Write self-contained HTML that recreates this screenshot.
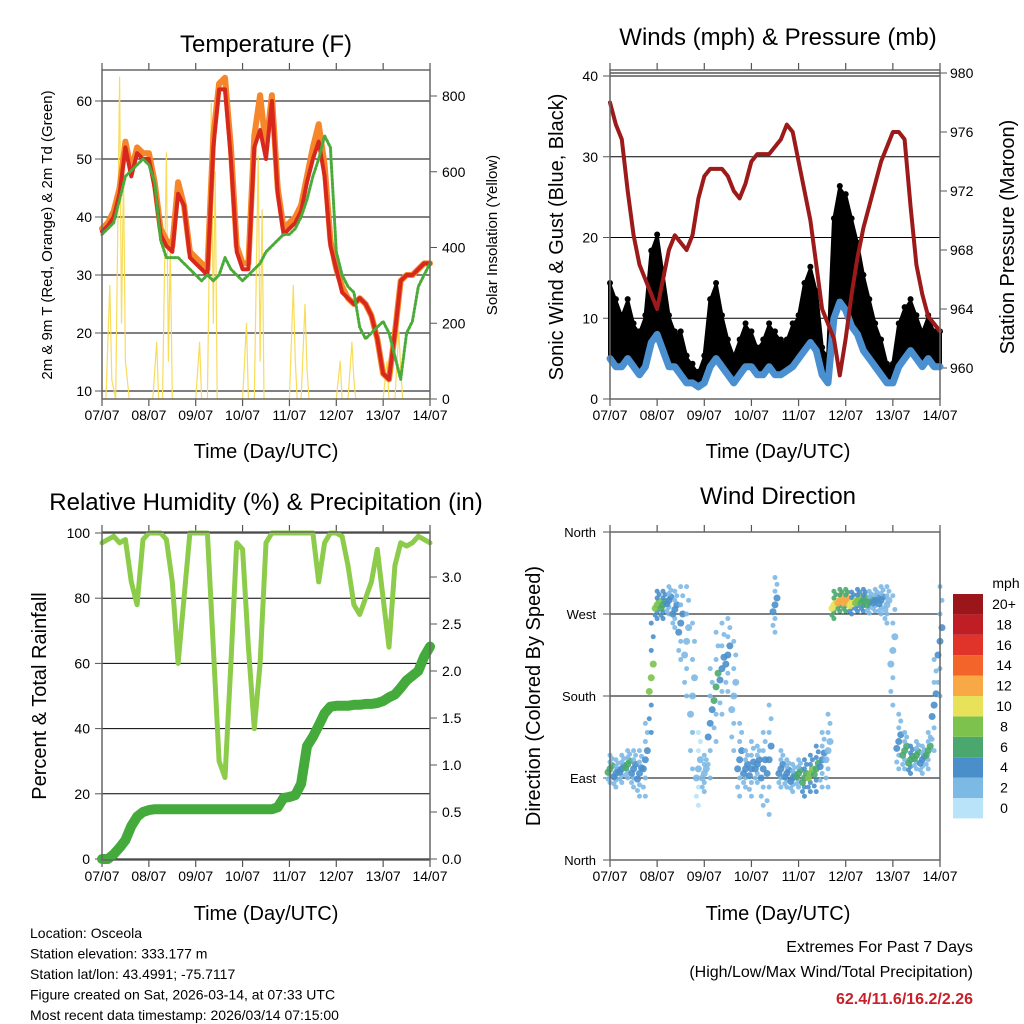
<!DOCTYPE html>
<html><head><meta charset="utf-8"><style>
body{margin:0;background:#fff;width:1024px;height:1024px;overflow:hidden;font-family:"Liberation Sans",sans-serif}
svg{position:absolute;left:0;top:0}
</style></head><body>
<svg id="s" width="1024" height="1024" xmlns="http://www.w3.org/2000/svg" font-family="Liberation Sans, sans-serif"></svg>
<script>
const hours=[0,3,6,9,12,15,18,21,24,27,30,33,36,39,42,45,48,51,54,57,60,63,66,69,72,75,78,81,84,87,90,93,96,99,102,105,108,111,114,117,120,123,126,129,132,135,138,141,144,147,150,153,156,159,162,165,168];
const dayLabels=["07/07","08/07","09/07","10/07","11/07","12/07","13/07","14/07"];
const temp2m=[37.5,38.5,40,44,52,47,51,50,50,45,37,35,34,44,42,33,32,31,30,52,62,62,50,34,31,31,52,55,50,60,44,37,38,39,41,46,50,53,47,35,31,27,26,25,26,25,23,19,13,12,20,29,30,30,31,32,32];
const temp9m=[38,39,41,45,53,48,52,51,51,46,38,36,35,46,42,34,33,32,31,54,63,64,52,35,32,32,54,61,52,61,45,38,39,40,42,47,52,56,49,36,31,28,26,25,26,25,23,19,13,12,20,29,30,30,31,32,32];
const dewpoint=[37,38,39,43,47,48,49,50,49,46,36,33,33,33,32,31,30,29,30,29,30,33,31,30,29,30,31,32,34,35,36,37,37,38,40,43,47,50,54,52,34,30,28,27,21,19,20,21,22,20,16,12,20,22,28,30,32];
const solarHours=[0,2,4,5,7,9,10,11,12,14,26,28,29,31,33,34,35,36,48,50,51,54,56,57,58,59,72,74,75,78,80,81,82,83,96,98,99,100,102,104,105,106,120,122,123,126,128,129,130,144,146,147,150,152,153,154,168];
const solarVals=[0,0,300,50,0,850,200,600,100,0,0,150,0,0,650,100,400,0,0,150,0,0,780,200,600,0,0,200,0,0,640,100,500,0,0,300,100,0,0,250,80,0,0,100,0,0,150,50,0,0,100,0,0,180,80,0,0];
const pressure=[978,976.5,975.5,972,969,967,966,965,964,966,968,969,968.5,968,969,971.5,973,973.5,973.5,973.5,973,972,971.5,972.5,974,974.5,974.5,974.5,975,975.5,976.5,976,974,972,970,967,964,963,962,959.5,962,965,967.5,969.5,971,972.5,974,975,976,976,975.5,971,967,965,963.5,963,962.5];
const windSpeed=[5,4,4,5,4,3,4,7,8,6,4,4,3,2,2,1.5,2,4,5,4,3,2,3,4,4,3,3,4,3,3,3.5,4,5,6,7,6,3,2,10,12,11,9,8,6,5,4,3,2,2,4,5,6,5,4,5,4,4];
const windGust=[14,12,10,12,9,8,10,18,20,15,10,8,8,5,4,3,5,12,14,10,7,5,7,9,8,6,7,9,8,7,7,9,10,14,16,13,6,5,22,26,25,22,19,15,12,9,7,4,4,9,11,12,10,8,10,8,8];
const humidity=[97,98,99,97,98,85,78,98,100,100,100,98,85,60,80,100,100,100,100,65,30,25,60,97,95,65,40,60,97,100,100,100,100,100,100,100,100,85,97,100,100,99,90,78,75,80,85,95,80,65,90,97,96,97,99,98,97];
const precip=[0,0,0.05,0.12,0.2,0.35,0.45,0.5,0.52,0.53,0.53,0.53,0.53,0.53,0.53,0.53,0.53,0.53,0.53,0.53,0.53,0.53,0.53,0.53,0.53,0.53,0.53,0.53,0.53,0.53,0.55,0.65,0.66,0.68,0.8,1.2,1.3,1.42,1.55,1.62,1.63,1.63,1.63,1.64,1.64,1.65,1.65,1.66,1.68,1.72,1.75,1.82,1.9,1.95,2.0,2.15,2.26];
const windDir=[100,95,100,105,100,95,110,200,280,280,285,275,260,240,180,100,95,150,190,210,225,180,110,100,100,105,100,110,280,100,95,90,95,90,95,100,110,120,280,285,285,282,285,285,283,285,285,280,230,130,120,110,115,110,120,170,240];
const dirSpread=[15,15,15,15,20,25,40,60,15,15,15,20,40,60,80,40,20,60,60,50,40,60,40,20,30,20,40,60,30,20,15,15,15,20,20,25,30,40,15,12,12,12,12,12,12,12,15,20,60,30,20,15,15,15,20,50,60];
const speedLevels=["0","2","4","6","8","10","12","14","16","18","20+"];
const speedColors=["#b9e3f8","#7db9e5","#4a8fca","#4aa86e","#7cc24c","#e8e15a","#f8a845","#f26429","#e0342a","#bf1e24","#9b161b"];

const S=document.getElementById('s');
const NS="http://www.w3.org/2000/svg";
function mk(tag,attrs,parent){const e=document.createElementNS(NS,tag);for(const k in attrs)e.setAttribute(k,attrs[k]);(parent||S).appendChild(e);return e;}
function txt(x,y,s,size,anchor,extra){const e=mk('text',Object.assign({x:x,y:y,'font-size':size,'text-anchor':anchor||'middle',fill:'#000'},extra||{}));e.textContent=s;return e;}
function lin(d0,d1,r0,r1){return v=>r0+(v-d0)*(r1-r0)/(d1-d0);}
function poly(xs,ys,fx,fy,stroke,w,name,g){const p=xs.map((h,i)=>fx(h).toFixed(1)+','+fy(ys[i]).toFixed(1)).join(' ');const e=mk('polyline',{points:p,fill:'none',stroke:stroke,'stroke-width':w,'stroke-linejoin':'round','stroke-linecap':'round'},g);


return e;}

function frame(x0,x1,y0,y1,name){
  const g=mk('g',{});
  
  
  const fx=lin(0,168,x0,x1);
  dayLabels.forEach((d,i)=>{const x=fx(i*24);
    mk('line',{x1:x,x2:x,y1:y1,y2:y1+7,stroke:'#555','stroke-width':1.2},g);
    mk('line',{x1:x,x2:x,y1:y0,y2:y0-7,stroke:'#555','stroke-width':1.2},g);
    const t=txt(x,y1+21,d,14,'middle',{});
    
    
  });
  return {g,fx};
}
function border(x0,x1,y0,y1,g){mk('rect',{x:x0,y:y0,width:x1-x0,height:y1-y0,fill:'none',stroke:'#666','stroke-width':1.5},g);}

// ---------- Panel 1 temperature
(function(){
  const x0=102,x1=430,y0=70,y1=399;
  const {g,fx}=frame(x0,x1,y0,y1,'temperature-panel');
  const fy=lin(10,60,391,101), fs=lin(0,800,399,96);
  [10,20,30,40,50,60].forEach(v=>{const y=fy(v);mk('line',{x1:x0,x2:x1,y1:y,y2:y,stroke:'#000','stroke-width':1},g);mk('line',{x1:x0-7,x2:x0,y1:y,y2:y,stroke:'#555'},g);
    const t=txt(x0-10,y+5,String(v),14,'end');});
  [0,200,400,600,800].forEach(v=>{const y=fs(v);mk('line',{x1:x1,x2:x1+7,y1:y,y2:y,stroke:'#555'},g);
    const t=txt(x1+12,y+5,String(v),14,'start');});
  poly(solarHours,solarVals,fx,fs,'#f8dc5a',1.2,'solar-line',g);
  poly(hours,temp9m,fx,fy,'#f5862a',6,'temp-9m-line',g);
  poly(hours,temp2m,fx,fy,'#d8281e',4,'temp-2m-line',g);
  const d=poly(hours,dewpoint,fx,fy,'#4aaa3a',3,'dewpoint-line',g);d.setAttribute('stroke-dasharray','2 2');
  border(x0,x1,y0,y1,g);
  const t=txt(266,52,'Temperature (F)',24);
  const a=txt(266,458,'Time (Day/UTC)',20);
  const b=txt(0,0,'2m & 9m T (Red, Orange) & 2m Td (Green)',15,'middle',{transform:'translate(52,235) rotate(-90)'});
  const c=txt(0,0,'Solar Insolation (Yellow)',15,'middle',{transform:'translate(497,235) rotate(-90)'});
})();

// ---------- Panel 2 winds
(function(){
  const x0=610,x1=940,y0=70,y1=399;
  const {g,fx}=frame(x0,x1,y0,y1,'winds-panel');
  const fy=lin(0,40,399,76), fp=lin(960,980,368,73);
  [0,10,20,30,40].forEach(v=>{const y=fy(v);mk('line',{x1:x0,x2:x1,y1:y,y2:y,stroke:'#000'},g);mk('line',{x1:x0-7,x2:x0,y1:y,y2:y,stroke:'#555'},g);
    const t=txt(x0-12,y+5,String(v),14,'end');});
  mk('line',{x1:x0,x2:x1,y1:73,y2:73,stroke:'#000'},g);
  [960,964,968,972,976,980].forEach(v=>{const y=fp(v);mk('line',{x1:x1,x2:x1+7,y1:y,y2:y,stroke:'#555'},g);
    const t=txt(x1+10,y+5,String(v),14,'start');});
  // gust band (cloud) between sustained and gust values
  const up=hours.map((h,i)=>fx(h).toFixed(1)+','+fy(windGust[i]).toFixed(1));
  const dn=hours.map((h,i)=>fx(h).toFixed(1)+','+fy(windSpeed[i]).toFixed(1)).reverse();
  const band=mk('polygon',{points:up.concat(dn).join(' '),fill:'#000',stroke:'#000','stroke-width':4,'stroke-linejoin':'round'},g);
  
  
  hours.forEach((h,i)=>{const c=mk('circle',{cx:fx(h),cy:fy(windGust[i])-3,r:3,fill:'#000'},g);
    
    });
  poly(hours,windSpeed,fx,fy,'#4a90d0',7,'wind-speed-line',g);
  poly(hours,pressure,fx,fp,'#9c1a1a',4,'pressure-line',g);
  border(x0,x1,y0,y1,g);
  const t=txt(778,45,'Winds (mph) & Pressure (mb)',24);
  const a=txt(778,458,'Time (Day/UTC)',20);
  const b=txt(0,0,'Sonic Wind & Gust (Blue, Black)',20,'middle',{transform:'translate(563,237) rotate(-90)'});
  const c=txt(0,0,'Station Pressure (Maroon)',20,'middle',{transform:'translate(1014,237) rotate(-90)'});
})();

// ---------- Panel 3 humidity
(function(){
  const x0=102,x1=430,y0=532,y1=860;
  const {g,fx}=frame(x0,x1,y0,y1,'humidity-panel');
  const fy=lin(0,100,859,533), fr=lin(0,3,859,577);
  [0,20,40,60,80,100].forEach(v=>{const y=fy(v);mk('line',{x1:x0,x2:x1,y1:y,y2:y,stroke:'#000'},g);mk('line',{x1:x0-7,x2:x0,y1:y,y2:y,stroke:'#555'},g);
    const t=txt(x0-12,y+5,String(v),14,'end');});
  ["0.0","0.5","1.0","1.5","2.0","2.5","3.0"].forEach(v=>{const y=fr(+v);mk('line',{x1:x1,x2:x1+7,y1:y,y2:y,stroke:'#555'},g);
    const t=txt(x1+12,y+5,v,14,'start');});
  poly(hours,humidity,fx,fy,'#8ccc4a',5,'humidity-line',g);
  poly(hours,precip,fx,fr,'#44aa3c',10,'precip-line',g);
  border(x0,x1,y0,y1,g);
  const t=txt(266,510,'Relative Humidity (%) & Precipitation (in)',24);
  const a=txt(266,920,'Time (Day/UTC)',20);
  const b=txt(0,0,'Percent & Total Rainfall',20,'middle',{transform:'translate(46,696) rotate(-90)'});
})();

// ---------- Panel 4 direction
(function(){
  const x0=610,x1=940,y0=532,y1=860;
  const {g,fx}=frame(x0,x1,y0,y1,'wind-direction-panel');
  const fy=lin(0,360,860,532);
  const names=["North","East","South","West","North"];
  [0,90,180,270,360].forEach((v,i)=>{const y=fy(v);mk('line',{x1:x0,x2:x1,y1:y,y2:y,stroke:'#000'},g);mk('line',{x1:x0-7,x2:x0,y1:y,y2:y,stroke:'#555'},g);
    const t=txt(x0-14,y+5,names[i],13,'end');});
  function col(s){return speedColors[Math.max(0,Math.min(10,Math.round(s/2)))];}
  hours.forEach((h,i)=>{const sp=dirSpread[i];
    for(let k=-4;k<=4;k++){const v=windDir[i]+sp*k/4;if(v<0||v>360)continue;
      const c=mk('circle',{cx:fx(h)+(k%2)*2,cy:fy(v),r:Math.abs(k)<2?3.5:2.5,fill:col(windSpeed[i]*(Math.abs(k)<2?1:0.5)),opacity:0.9},g);
      
      }
  });
  border(x0,x1,y0,y1,g);
  const t=txt(778,504,'Wind Direction',24);
  const a=txt(778,920,'Time (Day/UTC)',20);
  const b=txt(0,0,'Direction (Colored By Speed)',20,'middle',{transform:'translate(540,696) rotate(-90)'});
  const lg=mk('g',{});
  
  
  const lt=txt(1006,588,'mph',14);lg.appendChild(lt);
  speedLevels.forEach((l,i)=>{const y=798-i*20.4;
    const r=mk('rect',{x:953,y:y,width:30,height:20.4,fill:speedColors[i]},lg);
    
    
    const tt=txt(1004,y+15,l,14);lg.appendChild(tt);});
})();

// ---------- footer
const info=["Location: Osceola","Station elevation: 333.177 m","Station lat/lon: 43.4991; -75.7117","Figure created on Sat, 2026-03-14, at 07:33 UTC","Most recent data timestamp: 2026/03/14 07:15:00"];
info.forEach((s,i)=>{const t=txt(30,938+i*20.5,s,14,'start');});
const e1=txt(973,952,'Extremes For Past 7 Days',16,'end');
const e2=txt(973,977,'(High/Low/Max Wind/Total Precipitation)',16,'end');
const e3=txt(973,1004,'62.4/11.6/16.2/2.26',16,'end',{fill:'#c8202a','font-weight':'bold'});
</script>
</body></html>
